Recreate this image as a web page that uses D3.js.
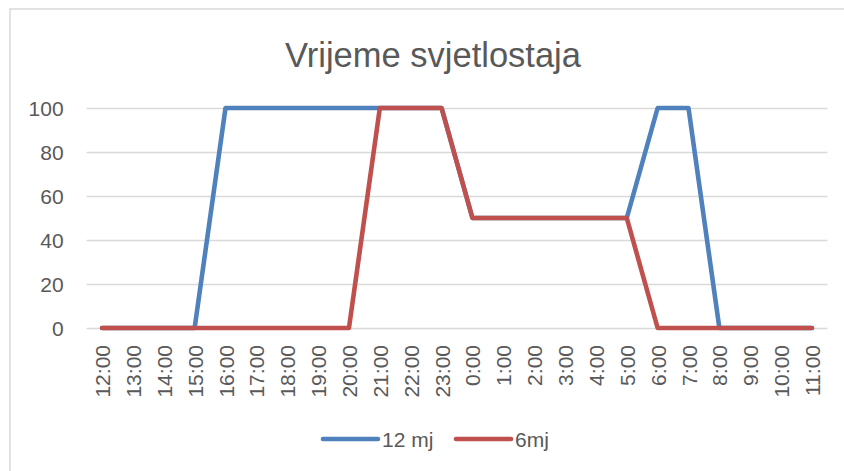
<!DOCTYPE html>
<html>
<head>
<meta charset="utf-8">
<script src="https://cdn.jsdelivr.net/npm/d3@7"></script>
<style>
  html, body { margin: 0; padding: 0; background: #fff; }
  svg { display: block; }
  text { font-family: "Liberation Sans", Arial, sans-serif; fill: #595959; }
</style>
</head>
<body>
<svg id="chart" width="844" height="471"></svg>
<script>
const title = "Vrijeme svjetlostaja";
const categories = ["12:00","13:00","14:00","15:00","16:00","17:00","18:00","19:00","20:00","21:00","22:00","23:00",
  "0:00","1:00","2:00","3:00","4:00","5:00","6:00","7:00","8:00","9:00","10:00","11:00"];
const seriesNames = ["12 mj", "6mj"];
const values12mj = [0,0,0,0,100,100,100,100,100,100,100,100,50,50,50,50,50,50,100,100,0,0,0,0];
const values6mj  = [0,0,0,0,0,0,0,0,0,100,100,100,50,50,50,50,50,50,0,0,0,0,0,0];
const yTicks = [0, 20, 40, 60, 80, 100];
const colors = ["#4F81BD", "#C0504D"];

const svg = d3.select("#chart");
const W = 844, H = 471;
const plot = { left: 86.6, right: 827.4, top: 108, bottom: 328 };

// outer frame (partially cropped in reference)
svg.append("path")
  .attr("d", `M10,${H + 5} L10,9 L${W + 5},9`)
  .attr("fill", "none").attr("stroke", "#d9d9d9").attr("stroke-width", 1.5);

const x = d3.scalePoint().domain(categories).range([plot.left, plot.right]).padding(0.5);
const y = d3.scaleLinear().domain([0, 100]).range([plot.bottom, plot.top]);

// title
svg.append("text")
  .attr("x", 433).attr("y", 67)
  .attr("text-anchor", "middle")
  .style("font-size", "34.5px")
  .text(title);

// gridlines
const yAxis = d3.axisLeft(y).tickValues(yTicks).tickSize(-(plot.right - plot.left)).tickPadding(23);
const gy = svg.append("g").attr("transform", `translate(${plot.left},0)`).call(yAxis);
gy.select(".domain").remove();
gy.selectAll(".tick line").attr("stroke", "#d9d9d9").attr("stroke-width", 1.3);
gy.selectAll(".tick text")
  .style("font-size", "21px").style("font-family", "'Liberation Sans', Arial, sans-serif")
  .attr("fill", "#595959").attr("dy", "0.36em");

// x axis labels
const xAxis = d3.axisBottom(x).tickSize(0).tickPadding(0);
const gx = svg.append("g").attr("transform", `translate(0,${plot.bottom})`).call(xAxis);
gx.select(".domain").remove();
gx.selectAll(".tick text")
  .style("font-size", "21px").style("font-family", "'Liberation Sans', Arial, sans-serif")
  .attr("fill", "#595959")
  .attr("text-anchor", "end")
  .attr("transform", "rotate(-90)")
  .attr("x", -17).attr("y", 0).attr("dy", "0.36em");

// lines
const line = d3.line().x((d, i) => x(categories[i])).y(d => y(d));
[values12mj, values6mj].forEach((vals, k) => {
  svg.append("path")
    .datum(vals)
    .attr("d", line)
    .attr("fill", "none")
    .attr("stroke", colors[k])
    .attr("stroke-width", 4.6)
    .attr("stroke-linejoin", "round")
    .attr("stroke-linecap", "round");
});

// legend
const legendItems = [
  { x1: 323, x2: 378, tx: 382, name: seriesNames[0], color: colors[0] },
  { x1: 456, x2: 511, tx: 515, name: seriesNames[1], color: colors[1] }
];
const lg = svg.append("g");
legendItems.forEach(it => {
  lg.append("line").attr("x1", it.x1).attr("x2", it.x2).attr("y1", 439).attr("y2", 439)
    .attr("stroke", it.color).attr("stroke-width", 4.6).attr("stroke-linecap", "round");
  lg.append("text").attr("x", it.tx).attr("y", 439).attr("dy", "0.36em")
    .style("font-size", "21px").text(it.name);
});
</script>
</body>
</html>
